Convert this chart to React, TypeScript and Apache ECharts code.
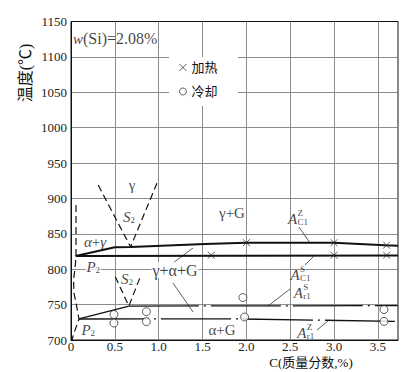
import React, { useEffect, useRef } from "react";
import * as echarts from "echarts";

const SERIF = "Liberation Serif, DejaVu Serif, serif";
const MIXED = "Liberation Serif, Noto Sans CJK SC, serif";

// axis tick labels
const xTickLabels = ["0", "0.5", "1.0", "1.5", "2.0", "2.5", "3.0", "3.5"];
const yTickLabels = ["700", "750", "800", "850", "900", "950", "1000", "1050", "1100", "1150"];

// measured points: [C %, temperature °C]
const heatingPoints = [
  [1.6, 819.8], [2.0, 837.5], [3.0, 837.5], [3.0, 819.8], [3.6, 834], [3.6, 819.8],
];
const coolingPoints = [
  [0.49, 736], [0.49, 724], [0.86, 740], [0.86, 726],
  [1.96, 760], [1.98, 732.5], [3.57, 743], [3.57, 726.3],
];

// boundary lines
const acZLine = [
  [0.054, 818.7], [0.5, 831], [0.68, 831.5], [1.53, 835.6], [2.0, 837.5],
  [3.0, 837.5], [3.58, 833.8], [3.73, 833.2],
];
const acSLine = [[0.054, 818.7], [3.73, 819.5]];
const lowerLeftSolid = [[0.091, 729.7], [0.66, 748]];
const arSLine = [[0.66, 748], [3.73, 748.5]];
const arZLine = [[0.091, 729.7], [1.9, 729.8], [3.73, 726.3]];
const alphaBoundary = [
  [0.057, 890.7], [0.057, 818.7], [0.046, 801.7], [0.029, 784.8], [0.034, 766.4],
  [0.068, 745.2], [0.091, 729.7], [0.068, 721.2], [0.034, 709.9], [0.011, 700],
];
const upperS2 = [[0.31, 919], [0.68, 831.5], [0.98, 921.4]];
const lowerS2 = [[0.505, 789.4], [0.66, 748], [0.787, 788.3]];
const leaderLines = [
  [[2.601, 859.6], [2.726, 837]],
  [[1.163, 808.8], [1.392, 830]],
  [[1.163, 780.5], [1.392, 739.6]],
  [[2.669, 806], [2.783, 820]],
  [[2.498, 772], [2.247, 748]],
  [[2.806, 714.1], [2.931, 726.8]],
];

// region labels: text, C, T, align, white background, font size
const regionLabels: [string, number, number, string, boolean, number][] = [
  ["{i|w}(Si)=2.08%", 0.023, 1125.3, "left", false, 16],
  ["γ", 0.696, 919, "center", false, 15],
  ["{i|S}{s|2}", 0.662, 873.6, "center", false, 15],
  ["{i|α}+{i|γ}", 0.274, 838.9, "center", false, 15],
  ["{i|P}{s|2}", 0.254, 803.6, "center", true, 15],
  ["γ+α+G", 1.186, 798.9, "center", true, 16],
  ["{i|S}{s|2}", 0.639, 786, "center", true, 15],
  ["{i|P}{s|2}", 0.197, 714.1, "center", false, 15],
  ["γ+G", 1.836, 879.4, "center", false, 15],
  ["α+G", 1.722, 714, "center", false, 15],
];
// critical point labels: sup, sub, C, T (anchor = centre of "A")
const criticalLabels: [string, string, number, number][] = [
  ["Z", "C1", 2.527, 871],
  ["S", "C1", 2.555, 791.8],
  ["S", "r1", 2.593, 766],
  ["Z", "r1", 2.632, 710.3],
];

function buildOption() {
  const labelData: any[] = [];
  regionLabels.forEach(([txt, c, t, align, bg, fs]) => {
    labelData.push({
      value: [c, t],
      txt,
      label: {
        align,
        fontSize: fs,
        backgroundColor: bg ? "#fff" : "transparent",
        padding: bg ? [0, 1] : 0,
      },
    });
  });
  criticalLabels.forEach(([sup, sub, c, t]) => {
    labelData.push({ value: [c, t], txt: "{i|A}", label: { align: "center" } });
    labelData.push({
      value: [c, t],
      txt: sup,
      label: { align: "left", offset: [5, -6], fontSize: 9 },
    });
    labelData.push({
      value: [c, t],
      txt: sub,
      label: { align: "left", offset: [5, 3], fontSize: 9 },
    });
  });

  const lineSeries = (data: number[][], width: number, type: any, z = 3) => ({
    type: "line",
    data,
    symbol: "none",
    silent: true,
    z,
    lineStyle: { color: "#111", width, type },
  });

  return {
    animation: false,
    backgroundColor: "#fff",
    grid: {
      left: 71,
      top: 21.5,
      width: 327,
      height: 318.5,
      show: true,
      borderColor: "#111",
      borderWidth: 1,
    },
    xAxis: {
      type: "value",
      min: 0,
      max: 3.73,
      interval: 0.5,
      axisLine: { show: true, onZero: false, lineStyle: { color: "#111", width: 1 } },
      axisTick: { show: false },
      axisLabel: {
        margin: 0,
        fontFamily: SERIF,
        fontSize: 13,
        color: "#222",
        formatter: (v: number) => {
          const i = Math.round(v / 0.5);
          return Math.abs(v - i * 0.5) < 1e-6 ? xTickLabels[i] ?? "" : "";
        },
      },
      splitLine: {
        show: true,
        showMinLine: false,
        showMaxLine: false,
        lineStyle: { color: "#8c8c8c", width: 1 },
      },
    },
    yAxis: {
      type: "value",
      min: 700,
      max: 1150,
      interval: 50,
      axisLine: { show: true, onZero: false, lineStyle: { color: "#111", width: 1 } },
      axisTick: { show: false },
      axisLabel: {
        margin: 4,
        fontFamily: SERIF,
        fontSize: 13,
        color: "#222",
        formatter: (v: number) => {
          const i = Math.round((v - 700) / 50);
          return yTickLabels[i] ?? "";
        },
      },
      splitLine: {
        show: true,
        showMinLine: false,
        showMaxLine: false,
        lineStyle: { color: "#8c8c8c", width: 1 },
      },
    },
    legend: {
      data: ["加热", "冷却"],
      orient: "vertical",
      left: 174,
      top: 56,
      itemWidth: 7,
      itemHeight: 7,
      itemGap: 11,
      selectedMode: false,
      itemStyle: { borderWidth: 0.9 },
      textStyle: { fontFamily: MIXED, fontSize: 13, color: "#111" },
    },
    graphic: [
      {
        type: "rect",
        z: 1,
        silent: true,
        shape: { x: 169, y: 57, width: 69, height: 49 },
        style: { fill: "#fff" },
      },
      {
        type: "text",
        z: 5,
        x: 25,
        y: 73,
        rotation: Math.PI / 2,
        style: {
          text: "温度(℃)",
          fontFamily: MIXED,
          fontSize: 16,
          fill: "#111",
          align: "center",
          verticalAlign: "middle",
        },
      },
      {
        type: "text",
        z: 5,
        x: 311,
        y: 362,
        style: {
          text: "C(质量分数,%)",
          fontFamily: MIXED,
          fontSize: 13,
          fill: "#111",
          align: "center",
          verticalAlign: "middle",
        },
      },
    ],
    series: [
      lineSeries(acZLine, 2, "solid"),
      lineSeries(acSLine, 2, "solid"),
      lineSeries(lowerLeftSolid, 1.3, "solid"),
      lineSeries(arSLine, 1.3, [70, 5, 2, 5]),
      lineSeries(arZLine, 1.3, [70, 5, 2, 5]),
      lineSeries(alphaBoundary, 1.2, [7, 4]),
      lineSeries(upperS2, 1.2, [7, 4]),
      lineSeries(lowerS2, 1.2, [7, 4]),
      {
        type: "lines",
        coordinateSystem: "cartesian2d",
        silent: true,
        z: 3,
        lineStyle: { color: "#333", width: 0.8, opacity: 1 },
        data: leaderLines.map((c) => ({ coords: c })),
      },
      {
        name: "加热",
        type: "scatter",
        z: 4,
        symbol: "path://M0,0L8,8M8,0L0,8",
        symbolSize: 7,
        itemStyle: { color: "rgba(0,0,0,0)", borderColor: "#222", borderWidth: 0.9 },
        data: heatingPoints,
      },
      {
        name: "冷却",
        type: "scatter",
        z: 4,
        symbol: "circle",
        symbolSize: 8,
        itemStyle: { color: "#fff", borderColor: "#222", borderWidth: 0.9 },
        data: coolingPoints,
      },
      {
        type: "scatter",
        z: 5,
        silent: true,
        symbolSize: 0,
        data: labelData,
        label: {
          show: true,
          position: "inside",
          verticalAlign: "middle",
          fontFamily: SERIF,
          fontSize: 15,
          color: "#111",
          formatter: (p: any) => p.data.txt,
          rich: {
            i: { fontStyle: "italic", fontFamily: SERIF, fontSize: 15, color: "#111" },
            s: { fontFamily: SERIF, fontSize: 9, color: "#111", verticalAlign: "bottom" },
          },
        },
      },
    ],
  };
}

export default function App() {
  const ref = useRef<HTMLDivElement>(null);
  useEffect(() => {
    const chart = echarts.init(ref.current!, null, { renderer: "svg" });
    chart.setOption(buildOption() as any);
    return () => chart.dispose();
  }, []);
  return (
    <div
      ref={ref}
      style={{ position: "absolute", left: 0, top: 0, width: 420, height: 372, background: "#fff" }}
    />
  );
}
